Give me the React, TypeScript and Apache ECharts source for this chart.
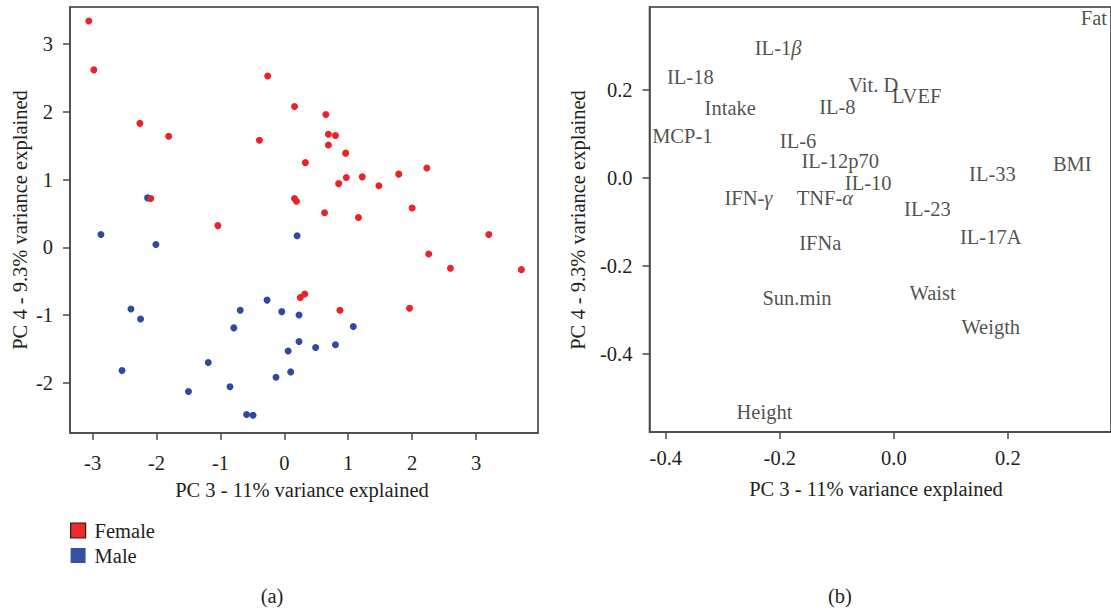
import React, { useEffect, useRef } from "react";
import * as echarts from "echarts";

// ---------- Panel (a): PCA scores ----------
const femaleX = [-3.06, -2.98, -2.26, -1.81, -2.09, -0.26, 0.16, -0.39, 0.33, 0.16, 0.19, 0.65, 0.69, 0.8, 0.69, 0.96, 2.23, 1.79, 0.97, 1.22, 0.85, 1.48, 0.63, 2.0, 1.16, -1.04, 0.25, 0.32, 3.2, 2.26, 2.6, 3.71, 0.87, 1.96];
const femaleY = [3.34, 2.62, 1.83, 1.64, 0.72, 2.53, 2.08, 1.58, 1.25, 0.72, 0.68, 1.96, 1.67, 1.65, 1.51, 1.39, 1.17, 1.08, 1.03, 1.04, 0.94, 0.91, 0.51, 0.58, 0.44, 0.32, -0.74, -0.69, 0.19, -0.1, -0.31, -0.33, -0.93, -0.9];
const maleX = [-2.14, -2.87, -2.01, 0.2, -2.4, -2.25, -2.54, -1.5, -1.19, -0.85, -0.79, -0.69, -0.59, -0.49, -0.27, -0.04, 0.23, 0.23, 0.06, -0.13, 0.1, 1.08, 0.49, 0.8];
const maleY = [0.73, 0.19, 0.04, 0.17, -0.91, -1.06, -1.82, -2.13, -1.7, -2.06, -1.19, -0.93, -2.47, -2.48, -0.78, -0.95, -1.0, -1.39, -1.53, -1.92, -1.84, -1.17, -1.48, -1.44];
const scoreTicksX = [-3, -2, -1, 0, 1, 2, 3];
const scoreTicksY = [-2, -1, 0, 1, 2, 3];

// ---------- Panel (b): PCA loadings ----------
const varNames = ["Fat", "IL-1β", "IL-18", "Vit. D", "LVEF", "IL-8", "Intake", "MCP-1", "IL-6", "IL-12p70", "IL-10", "IFN-γ", "TNF-α", "IL-33", "BMI", "IL-23", "IL-17A", "IFNa", "Sun.min", "Waist", "Weigth", "Height"];
const loadX = [0.351, -0.203, -0.357, -0.036, 0.04, -0.099, -0.287, -0.371, -0.168, -0.094, -0.045, -0.255, -0.121, 0.173, 0.313, 0.059, 0.17, -0.129, -0.17, 0.068, 0.17, -0.227];
const loadY = [0.363, 0.296, 0.23, 0.212, 0.185, 0.162, 0.158, 0.096, 0.083, 0.039, -0.012, -0.046, -0.047, 0.009, 0.032, -0.071, -0.135, -0.149, -0.274, -0.262, -0.34, -0.533];
const loadTicksX = [-0.4, -0.2, 0, 0.2];
const loadTicksY = [-0.4, -0.2, 0, 0.2];

const FONT = "Liberation Serif";
const FS = 20.5;
const TXT = "#231f20";
const AXC = "#4a4a4a";

export default function App() {
  const ref = useRef<HTMLDivElement>(null);
  useEffect(() => {
    document.body.style.margin = "0";
    const chart = echarts.init(ref.current!, null, { renderer: "svg" });

    const axisCommon = {
      axisLine: { show: true, onZero: false, lineStyle: { color: AXC, width: 1.5 } },
      axisTick: { show: true, length: 7, lineStyle: { color: AXC, width: 1.5 } },
      splitLine: { show: false },
    };
    const labelStyle = { color: TXT, fontFamily: FONT, fontSize: FS };

    const fem = femaleX.map((x, i) => [x, femaleY[i]]);
    const mal = maleX.map((x, i) => [x, maleY[i]]);
    const loads = varNames.map((n, i) => ({ value: [loadX[i], loadY[i]], name: n }));

    const greek = (s: string) => s.replace(/([αβγ])/g, "{g|$1}");
    const font = `${FS}px '${FONT}'`;

    chart.setOption({
      animation: false,
      textStyle: { fontFamily: FONT, color: TXT },
      grid: [
        { left: 70, top: 7, width: 468, height: 426, show: true, borderColor: "#333", borderWidth: 1.5, backgroundColor: "transparent" },
        { left: 649.5, top: 7, right: -6, height: 425, show: true, borderColor: "#333", borderWidth: 1.5, backgroundColor: "transparent" },
      ],
      xAxis: [
        {
          gridIndex: 0, type: "value", min: -3.354, max: 3.97, ...axisCommon,
          axisTick: { ...axisCommon.axisTick, customValues: scoreTicksX },
          axisLabel: { ...labelStyle, margin: 19, customValues: scoreTicksX },
        },
        {
          gridIndex: 1, type: "value", min: -0.4286, max: 0.381, ...axisCommon,
          axisTick: { ...axisCommon.axisTick, customValues: loadTicksX },
          axisLabel: { ...labelStyle, margin: 15, customValues: loadTicksX, formatter: (v: number) => v.toFixed(1) },
        },
      ],
      yAxis: [
        {
          gridIndex: 0, type: "value", min: -2.742, max: 3.548, ...axisCommon,
          axisTick: { ...axisCommon.axisTick, customValues: scoreTicksY },
          axisLabel: { ...labelStyle, margin: 17, customValues: scoreTicksY },
        },
        {
          gridIndex: 1, type: "value", min: -0.5786, max: 0.3884, ...axisCommon,
          axisTick: { ...axisCommon.axisTick, customValues: loadTicksY },
          axisLabel: { ...labelStyle, margin: 17, customValues: loadTicksY, formatter: (v: number) => v.toFixed(1) },
        },
      ],
      legend: {
        left: 70, top: 520, padding: 0, orient: "vertical", icon: "rect", itemWidth: 15, itemHeight: 15, itemGap: 4,
        textStyle: { ...labelStyle, padding: [0, 0, 0, 4] },
        data: [
          { name: "Female", itemStyle: { color: "#ec2a2a", borderColor: "#231f20", borderWidth: 1.2 } },
          { name: "Male", itemStyle: { color: "#3651a3" } },
        ],
      },
      series: [
        { name: "Male", type: "scatter", xAxisIndex: 0, yAxisIndex: 0, data: mal, symbolSize: 7, itemStyle: { color: "#2f4a9e", opacity: 1 }, z: 2 },
        { name: "Female", type: "scatter", xAxisIndex: 0, yAxisIndex: 0, data: fem, symbolSize: 7, itemStyle: { color: "#ec2227", opacity: 1 }, z: 3 },
        {
          name: "Loadings", type: "scatter", xAxisIndex: 1, yAxisIndex: 1, data: loads, symbolSize: 1,
          itemStyle: { color: "rgba(0,0,0,0)" },
          label: {
            show: true, position: "inside", color: TXT, fontFamily: FONT, fontSize: FS, lineHeight: 14,
            formatter: (p: any) => greek(p.name),
            rich: { g: { fontStyle: "italic", color: TXT, fontFamily: FONT, fontSize: FS, lineHeight: 14 } },
          },
          emphasis: { disabled: true },
        },
      ],
      graphic: [
        { type: "text", x: 20, y: 220, rotation: Math.PI / 2, style: { text: "PC 4 - 9.3% variance explained", font, fill: TXT, align: "center", verticalAlign: "middle" } },
        { type: "text", x: 302, y: 490, style: { text: "PC 3 - 11% variance explained", font, fill: TXT, align: "center", verticalAlign: "middle" } },
        { type: "text", x: 578, y: 220, rotation: Math.PI / 2, style: { text: "PC 4 - 9.3% variance explained", font, fill: TXT, align: "center", verticalAlign: "middle" } },
        { type: "text", x: 876, y: 489, style: { text: "PC 3 - 11% variance explained", font, fill: TXT, align: "center", verticalAlign: "middle" } },
        { type: "text", x: 272, y: 596, style: { text: "(a)", font, fill: TXT, align: "center", verticalAlign: "middle" } },
        { type: "text", x: 840, y: 596, style: { text: "(b)", font, fill: TXT, align: "center", verticalAlign: "middle" } },
      ],
    });
    return () => chart.dispose();
  }, []);
  return <div ref={ref} style={{ width: 1111, height: 610 }} />;
}
